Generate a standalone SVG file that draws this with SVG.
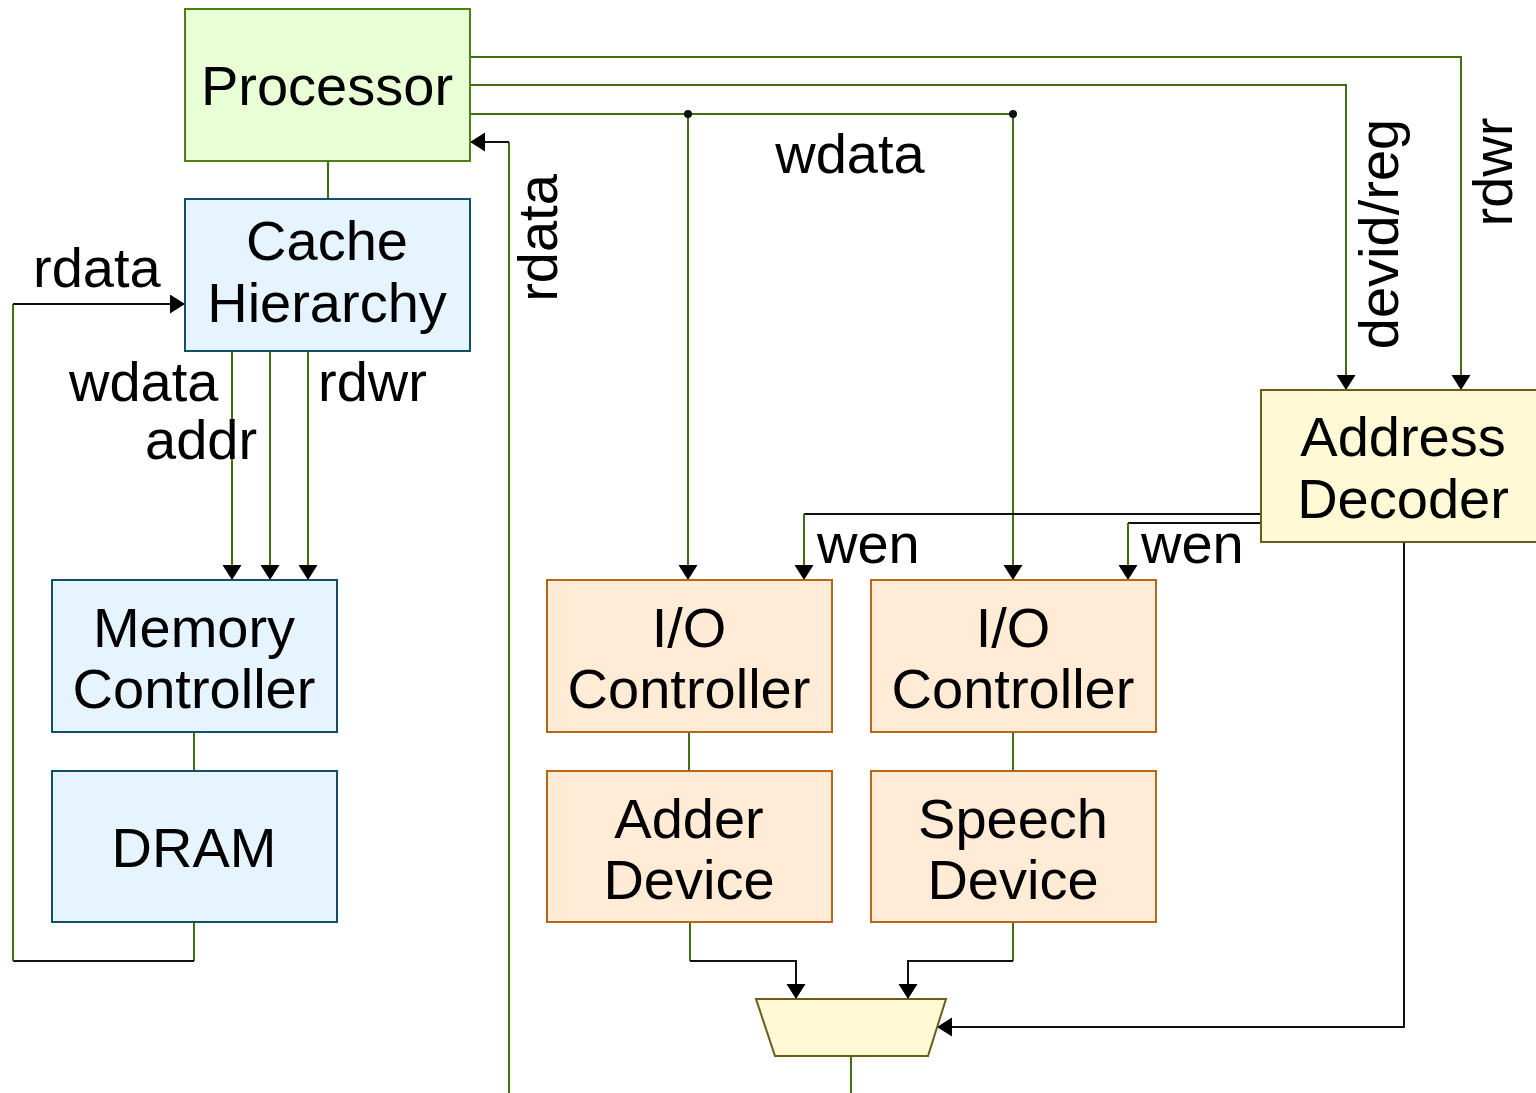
<svg xmlns="http://www.w3.org/2000/svg" width="1536" height="1093" viewBox="0 0 1536 1093">
<style>
text{font-family:"Liberation Sans",Arial,sans-serif;font-size:56px;fill:#000;text-anchor:middle}
.lbl{text-anchor:start}
.g{fill:none;stroke:#3f6f12;stroke-width:2}
.k{fill:none;stroke:#111;stroke-width:2}
.proc{fill:#e9ffd6;stroke:#4d7f17;stroke-width:2}
.blue{fill:#e6f4ff;stroke:#12506a;stroke-width:2}
.org{fill:#ffebd6;stroke:#b8661c;stroke-width:2}
.yel{fill:#fff9d6;stroke:#6b5c1a;stroke-width:2}
</style>
<defs>
<marker id="a" markerUnits="userSpaceOnUse" markerWidth="18" markerHeight="20" refX="15" refY="9.5" orient="auto">
<path d="M0,0 L15,9.5 L0,19 z" fill="#000"/>
</marker>
</defs>
<g id="connectors">
<path class="g" d="M328,161 V199"/>
<path class="g" d="M194,732 V771"/>
<path class="g" d="M689,732 V771"/>
<path class="g" d="M1013,732 V771"/>
<path class="g" d="M232,351 V580" marker-end="url(#a)"/>
<path class="g" d="M270,351 V580" marker-end="url(#a)"/>
<path class="g" d="M308,351 V580" marker-end="url(#a)"/>
<path class="g" d="M194,922 V961"/>
<path class="k" d="M194,961 H13"/>
<path class="g" d="M13,961 V304"/>
<path class="k" d="M13,304 H185" marker-end="url(#a)"/>
<path class="g" d="M470,57 H1461 V390" marker-end="url(#a)"/>
<path class="g" d="M470,85 H1346 V390" marker-end="url(#a)"/>
<path class="g" d="M470,114 H1013 V580" marker-end="url(#a)"/>
<path class="g" d="M688,114 V580" marker-end="url(#a)"/>
<circle cx="688" cy="114" r="4" fill="#111"/>
<circle cx="1013" cy="114" r="4" fill="#111"/>
<path class="g" d="M509,1093 V142"/>
<path class="k" d="M509,142 H470" marker-end="url(#a)"/>
<path class="k" d="M1261,514 H804"/>
<path class="g" d="M804,514 V580" marker-end="url(#a)"/>
<path class="k" d="M1261,523 H1128"/>
<path class="g" d="M1128,523 V580" marker-end="url(#a)"/>
<path class="g" d="M690,922 V961"/>
<path class="k" d="M690,961 H796 V999" marker-end="url(#a)"/>
<path class="g" d="M1013,922 V961"/>
<path class="k" d="M1013,961 H908 V999" marker-end="url(#a)"/>
<path class="k" d="M1404,542 V1027 H937" marker-end="url(#a)"/>
<path class="g" d="M851,1056 V1093"/>
</g>
<g id="labels">
<text class="lbl" x="33" y="287">rdata</text>
<text class="lbl" x="69" y="401">wdata</text>
<text class="lbl" x="145" y="459">addr</text>
<text class="lbl" x="318" y="401">rdwr</text>
<text x="850" y="173">wdata</text>
<text x="817" y="563" class="lbl">wen</text>
<text x="1141" y="563" class="lbl">wen</text>
<text transform="translate(557,238) rotate(-90)">rdata</text>
<text transform="translate(1398,234) rotate(-90)">devid/reg</text>
<text transform="translate(1512,172) rotate(-90)">rdwr</text>
</g>
<g id="processor">
<rect class="proc" x="185" y="9" width="285" height="152"/>
<text x="327" y="105">Processor</text>
</g>
<g id="cache">
<rect class="blue" x="185" y="199" width="285" height="152"/>
<text x="327" y="260">Cache</text>
<text x="327" y="322">Hierarchy</text>
</g>
<g id="memctrl">
<rect class="blue" x="52" y="580" width="285" height="152"/>
<text x="194" y="647">Memory</text>
<text x="194" y="708">Controller</text>
</g>
<g id="dram">
<rect class="blue" x="52" y="771" width="285" height="151"/>
<text x="194" y="867">DRAM</text>
</g>
<g id="decoder">
<rect class="yel" x="1261" y="390" width="276" height="152"/>
<text x="1403" y="456">Address</text>
<text x="1403" y="518">Decoder</text>
</g>
<g id="ioc1">
<rect class="org" x="547" y="580" width="285" height="152"/>
<text x="689" y="647">I/O</text>
<text x="689" y="708">Controller</text>
</g>
<g id="ioc2">
<rect class="org" x="871" y="580" width="285" height="152"/>
<text x="1013" y="647">I/O</text>
<text x="1013" y="708">Controller</text>
</g>
<g id="adder">
<rect class="org" x="547" y="771" width="285" height="151"/>
<text x="689" y="838">Adder</text>
<text x="689" y="899">Device</text>
</g>
<g id="speech">
<rect class="org" x="871" y="771" width="285" height="151"/>
<text x="1013" y="838">Speech</text>
<text x="1013" y="899">Device</text>
</g>
<g id="mux">
<polygon class="yel" points="756,999 946,999 928,1056 775,1056"/>
</g>
</svg>
